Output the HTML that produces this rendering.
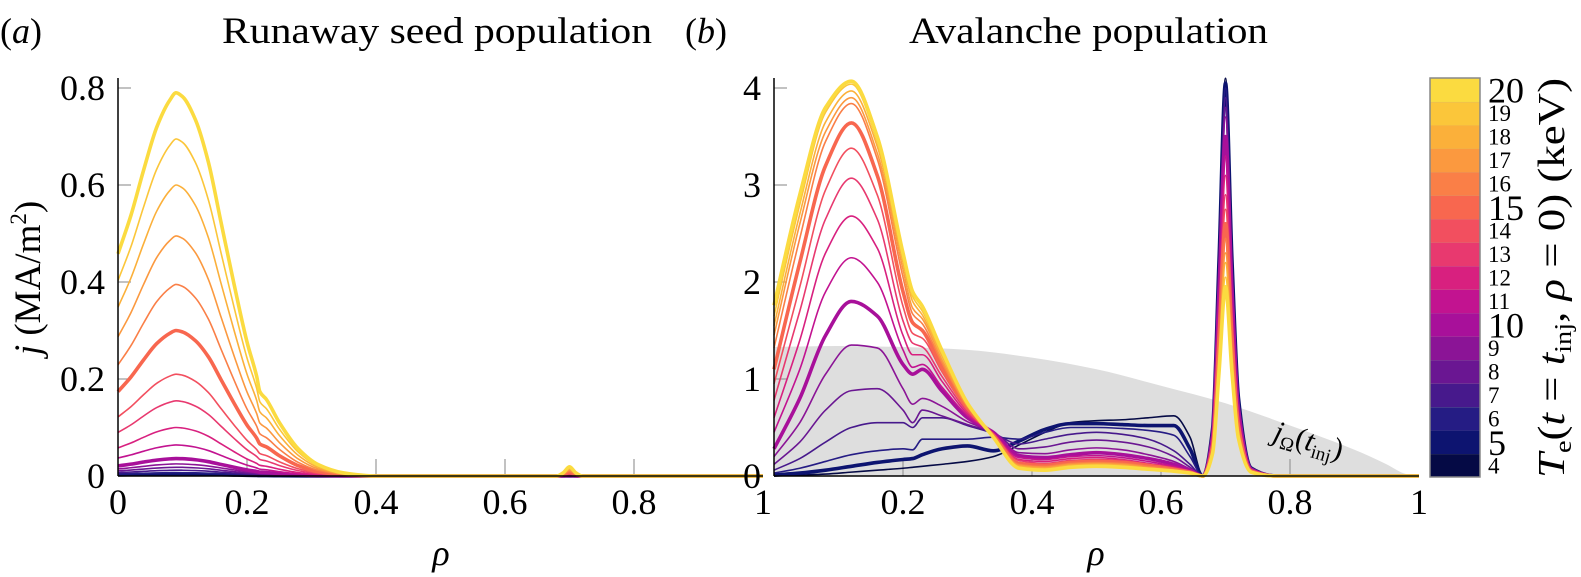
<!DOCTYPE html>
<html><head><meta charset="utf-8"><style>
html,body{margin:0;padding:0;background:#fff;}
svg{display:block;font-family:"Liberation Serif",serif;}
</style></head><body>
<svg id="chart" width="1581" height="577" viewBox="0 0 1581 577" xmlns="http://www.w3.org/2000/svg">
<g id="titles">
<text x="0" y="43" font-size="36"><tspan>(</tspan><tspan font-style="italic">a</tspan><tspan>)</tspan></text>
<text x="222" y="43" font-size="37" textLength="430" lengthAdjust="spacingAndGlyphs">Runaway seed population</text>
<text x="685" y="43" font-size="36"><tspan>(</tspan><tspan font-style="italic">b</tspan><tspan>)</tspan></text>
<text x="909" y="43" font-size="37" textLength="359" lengthAdjust="spacingAndGlyphs">Avalanche population</text>
<text transform="translate(40,278) rotate(-90)" font-size="37" text-anchor="middle"><tspan font-style="italic">j</tspan> (MA/m<tspan font-size="23" dy="-14">2</tspan><tspan dy="14">)</tspan></text>
<text x="441" y="565" font-size="36" font-style="italic" text-anchor="middle">ρ</text>
<text x="1096" y="565" font-size="36" font-style="italic" text-anchor="middle">ρ</text>
<text transform="translate(1564,278) rotate(-90)" font-size="38" text-anchor="middle" textLength="400" lengthAdjust="spacingAndGlyphs"><tspan font-style="italic">T</tspan><tspan font-size="24" dy="7">e</tspan><tspan dy="-7">(</tspan><tspan font-style="italic">t</tspan> = <tspan font-style="italic">t</tspan><tspan font-size="24" dy="7">inj</tspan><tspan dy="-7">, </tspan><tspan font-style="italic">ρ</tspan> = 0)  (keV)</text>
</g>
<g id="pa"></g>
<g id="pb"></g>
<g id="cb"></g>
</svg>
<script>
// ---- data ----
const temps = [4,5,6,7,8,9,10,11,12,13,14,15,16,17,18,19,20];
const tempColors = ["#050a45","#0d1470","#251c84","#47198c","#6a1692","#8b1496","#a8109a","#c21390","#d8207f","#e8396f","#f24f5f","#f8674f","#fa7f47","#fb993f","#fbb03a","#fbc63a","#fbdb40"];
const boldTemps = [5,10,15,20];
// panel (a): shared profile, scaled by per-temperature peak
const rhoA = [0,0.02,0.04,0.06,0.08,0.09,0.1,0.12,0.14,0.16,0.18,0.2,0.215,0.22,0.23,0.25,0.28,0.31,0.35,0.4,0.68,0.69,0.7,0.71,0.72,1];
const profileA = [0.58,0.68,0.8,0.91,0.98,1,0.99,0.93,0.82,0.66,0.5,0.35,0.26,0.22,0.2,0.14,0.07,0.03,0.008,0,0,0.008,0.024,0.008,0,0];
const peakA = [0.002,0.004,0.007,0.012,0.018,0.025,0.036,0.064,0.10,0.155,0.21,0.30,0.395,0.495,0.60,0.695,0.79];
const yTicksA = ["0","0.2","0.4","0.6","0.8"];
const xTicks = ["0","0.2","0.4","0.6","0.8","1"];
// panel (b)
const rhoB = [0,0.04,0.08,0.12,0.16,0.2,0.215,0.23,0.26,0.3,0.34,0.38,0.42,0.46,0.5,0.54,0.58,0.62,0.645,0.665];
const jB4  = [0,0.01,0.02,0.04,0.06,0.08,0.09,0.1,0.12,0.15,0.2,0.32,0.45,0.55,0.57,0.58,0.6,0.62,0.4,0];
const jB5  = [0.01,0.03,0.06,0.1,0.14,0.17,0.18,0.22,0.28,0.31,0.26,0.36,0.48,0.54,0.54,0.53,0.52,0.52,0.28,0];
const jB6  = [0.03,0.08,0.15,0.22,0.26,0.28,0.27,0.38,0.38,0.38,0.4,0.38,0.45,0.5,0.5,0.49,0.47,0.42,0.2,0];
const jB7  = [0.06,0.18,0.35,0.5,0.55,0.55,0.5,0.6,0.6,0.52,0.44,0.33,0.38,0.43,0.45,0.43,0.38,0.26,0.12,0];
const jB8  = [0.12,0.35,0.68,0.88,0.9,0.68,0.55,0.68,0.62,0.53,0.45,0.28,0.3,0.35,0.37,0.35,0.3,0.2,0.09,0];
const jB9  = [0.2,0.55,1.05,1.35,1.32,0.9,0.74,0.8,0.72,0.56,0.45,0.24,0.23,0.27,0.29,0.27,0.22,0.15,0.07,0];
const jB10 = [0.28,0.8,1.45,1.8,1.65,1.15,1.05,1.1,0.88,0.6,0.45,0.21,0.19,0.22,0.24,0.22,0.18,0.12,0.06,0];
const jB11 = [0.45,1.1,1.9,2.25,2.0,1.3,1.12,1.15,0.92,0.62,0.44,0.19,0.17,0.2,0.21,0.19,0.15,0.1,0.05,0];
const jB12 = [0.6,1.4,2.3,2.68,2.35,1.45,1.25,1.25,0.98,0.64,0.44,0.17,0.15,0.18,0.19,0.17,0.13,0.09,0.05,0];
const jB13 = [0.78,1.7,2.65,3.07,2.65,1.6,1.37,1.33,1.03,0.66,0.43,0.16,0.13,0.16,0.17,0.16,0.12,0.08,0.04,0];
const jB14 = [0.95,1.95,2.95,3.38,2.9,1.75,1.47,1.42,1.08,0.68,0.43,0.14,0.12,0.15,0.16,0.15,0.11,0.08,0.04,0];
const jB15 = [1.1,2.2,3.2,3.64,3.1,1.9,1.58,1.5,1.12,0.7,0.42,0.13,0.11,0.14,0.15,0.14,0.11,0.07,0.04,0];
const jB16 = [1.32,2.45,3.45,3.84,3.27,2.05,1.67,1.57,1.17,0.71,0.42,0.12,0.1,0.13,0.14,0.13,0.1,0.07,0.04,0];
const jB17 = [1.45,2.6,3.55,3.9,3.33,2.13,1.73,1.62,1.2,0.72,0.41,0.11,0.09,0.12,0.13,0.12,0.09,0.06,0.03,0];
const jB18 = [1.55,2.7,3.65,3.97,3.4,2.2,1.8,1.66,1.24,0.73,0.41,0.1,0.08,0.11,0.12,0.11,0.08,0.06,0.03,0];
const jB19 = [1.65,2.8,3.75,4.04,3.45,2.25,1.85,1.7,1.27,0.74,0.4,0.09,0.07,0.1,0.11,0.1,0.08,0.05,0.03,0];
const jB20 = [1.76,2.9,3.8,4.07,3.5,2.3,1.9,1.75,1.3,0.75,0.4,0.08,0.06,0.09,0.1,0.09,0.07,0.05,0.03,0];
const seriesB = [jB4,jB5,jB6,jB7,jB8,jB9,jB10,jB11,jB12,jB13,jB14,jB15,jB16,jB17,jB18,jB19,jB20];
const rhoSpike = [0.68,0.69,0.7,0.71,0.72,0.74,0.78,1.0];
const spikeProfile = [0.12,0.55,1,0.55,0.2,0.02,0,0];
const spikePeakB = [4.1,4.05,4.0,3.9,3.8,3.7,3.5,3.3,3.1,2.9,2.75,2.6,2.45,2.3,2.2,2.05,1.95];
const rhoOhm = [0,0.1,0.2,0.3,0.4,0.5,0.6,0.7,0.8,0.9,0.95,0.98,1.0];
const jOhm = [1.33,1.34,1.33,1.3,1.22,1.1,0.93,0.75,0.52,0.27,0.12,0.02,0];
const yTicksB = ["0","1","2","3","4"];

// ---- helpers ----
const NS="http://www.w3.org/2000/svg";
function mk(tag, parent, attrs){const e=document.createElementNS(NS,tag);for(const k in attrs)e.setAttribute(k,attrs[k]);parent.appendChild(e);return e;}
function monotone(xs, ys){
  const n=xs.length;const d=[],m=[];
  for(let i=0;i<n-1;i++)d.push((ys[i+1]-ys[i])/(xs[i+1]-xs[i]));
  m[0]=d[0];m[n-1]=d[n-2];
  for(let i=1;i<n-1;i++){ if(d[i-1]*d[i]<=0) m[i]=0; else {const w1=2*(xs[i+1]-xs[i])+(xs[i]-xs[i-1]);const w2=(xs[i+1]-xs[i])+2*(xs[i]-xs[i-1]);m[i]=(w1+w2)/(w1/d[i-1]+w2/d[i]);} }
  let p="M"+xs[0].toFixed(2)+","+ys[0].toFixed(2);
  for(let i=0;i<n-1;i++){const h=xs[i+1]-xs[i];
    p+=" C"+(xs[i]+h/3).toFixed(2)+","+(ys[i]+m[i]*h/3).toFixed(2)+" "+(xs[i+1]-h/3).toFixed(2)+","+(ys[i+1]-m[i+1]*h/3).toFixed(2)+" "+xs[i+1].toFixed(2)+","+ys[i+1].toFixed(2);}
  return p;
}
function axes(g, x0, x1, yb, yt, ymax, ticks, name, skipX0){
  const sx=v=>x0+(x1-x0)*v, sy=v=>yb-(yb-yt)*v/ymax;
  xTicks.forEach((t,i)=>{const v=i*0.2;
    if(i>0&&i<5){const l=mk("line",g,{x1:sx(v),x2:sx(v),y1:yb,y2:yb-17,stroke:"#999","stroke-width":1.2});
      
      }
    if(skipX0&&i===0) return;
    const tx=mk("text",g,{x:sx(v),y:yb+38,"font-size":36,"text-anchor":"middle"});tx.textContent=t;
    
    
  });
  ticks.forEach((t,i)=>{const v=parseFloat(t);const y=sy(v);
    if(i>0){const l=mk("line",g,{x1:x0,x2:x0+13,y1:y,y2:y,stroke:"#999","stroke-width":1.2});
      
      }
    const tx=mk("text",g,{x:x0-13,y:y+12,"font-size":36,"text-anchor":"end"});tx.textContent=t;
    
    
  });
  return {sx,sy};
}
function axisLines(g,x0,x1,yb,yt,name){
  const a=mk("line",g,{x1:x0,x2:x0,y1:yb,y2:yt,stroke:"#000","stroke-width":1.5});
  
  
  const b=mk("line",g,{x1:x0,x2:x1,y1:yb,y2:yb,stroke:"#000","stroke-width":1.5});
  
  
}

// ---- panel a ----
const ga=document.getElementById("pa");
const A=axes(ga,118,763,476,88,0.8,yTicksA,"panel-a",false);
temps.forEach((T,k)=>{
  const xs=rhoA.map(A.sx), ys=profileA.map(v=>A.sy(v*peakA[k]));
  const p=mk("path",ga,{d:monotone(xs,ys),fill:"none",stroke:tempColors[k],"stroke-width":boldTemps.includes(T)?3.6:1.6,"stroke-linejoin":"round"});
  
  
});
axisLines(ga,118,763,476,78,"panel-a");

// ---- panel b ----
const gb=document.getElementById("pb");
const x0b=774,x1b=1419;
const sxb=v=>x0b+(x1b-x0b)*v, syb=v=>476-(476-88)*v/4;
{ const xs=rhoOhm.map(sxb), ys=jOhm.map(syb);
  let d=monotone(xs,ys)+" L"+sxb(0)+","+syb(0)+" Z";
  const f=mk("path",gb,{d:d,fill:"#dedede",stroke:"none"});
  
  
}
const B=axes(gb,x0b,x1b,476,88,4,yTicksB,"panel-b",true);
temps.forEach((T,k)=>{
  const rs=rhoB.concat(rhoSpike);
  const vs=seriesB[k].concat(spikeProfile.map(s=>s*spikePeakB[k]));
  const p=mk("path",gb,{d:monotone(rs.map(sxb),vs.map(syb)),fill:"none",stroke:tempColors[k],"stroke-width":boldTemps.includes(T)?3.6:1.6,"stroke-linejoin":"round"});
  
  
});
axisLines(gb,x0b,x1b,476,78,"panel-b");
{ const t=mk("text",gb,{transform:"translate(1272,440) rotate(16)","font-size":30});
  t.innerHTML='<tspan font-style="italic">j</tspan><tspan font-size="19" dy="6">Ω</tspan><tspan dy="-6">(</tspan><tspan font-style="italic">t</tspan><tspan font-size="19" dy="6">inj</tspan><tspan dy="-6">)</tspan>';
  
  
}

// ---- colorbar ----
const gc=document.getElementById("cb");
const cbTop=78, cbBot=477, cbX=1430, cbW=50, segH=(cbBot-cbTop)/temps.length;
temps.forEach((T,k)=>{
  const y=cbBot-(k+1)*segH;
  const r=mk("rect",gc,{x:cbX,y:y,width:cbW,height:segH+0.5,fill:tempColors[k]});
  
  
  if(k<temps.length-1){const l=mk("line",gc,{x1:cbX,x2:cbX+cbW,y1:y,y2:y,stroke:"#aaa","stroke-width":1.2});
    
    }
  const big=T%5===0;
  const tx=mk("text",gc,{x:cbX+cbW+8,y:y+segH/2+(big?13:8),"font-size":big?36:23});
  tx.textContent=String(T);
  
  
});
{const fr=mk("rect",gc,{x:cbX,y:cbTop,width:cbW,height:cbBot-cbTop,fill:"none",stroke:"#888","stroke-width":1.5});
 
 }
</script>
</body></html>
